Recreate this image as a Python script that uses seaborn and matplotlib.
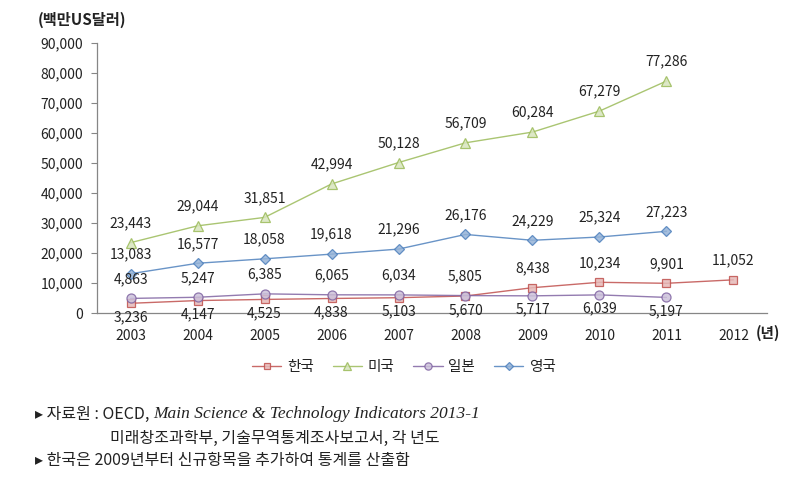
import matplotlib
matplotlib.use("Agg")
import matplotlib.pyplot as plt
import seaborn as sns
import pandas as pd
import numpy as np
from matplotlib.ticker import FuncFormatter, FixedLocator

years = ["2003", "2004", "2005", "2006", "2007", "2008", "2009", "2010", "2011", "2012"]
korea = [3236, 4147, 4525, 4838, 5103, 5670, 8438, 10234, 9901, 11052]
usa = [23443, 29044, 31851, 42994, 50128, 56709, 60284, 67279, 77286, None]
japan = [4863, 5247, 6385, 6065, 6034, 5805, 5717, 6039, 5197, None]
uk = [13083, 16577, 18058, 19618, 21296, 26176, 24229, 25324, 27223, None]
names = ["한국", "미국", "일본", "영국"]

sns.set_theme(style="white")
plt.rcParams['font.family'] = ['Noto Sans CJK KR', 'DejaVu Sans']

fig = plt.figure(figsize=(8.09, 4.82), dpi=100)
ax = fig.add_axes([0.12, 0.3506, 0.828, 0.5604])

series = [
    (names[0], korea, "#C0504D", "#E6B9B8", "s", 6),
    (names[1], usa, "#9BBB59", "#D7E4BD", "^", 6.5),
    (names[2], japan, "#8064A2", "#CCC1DA", "o", 6.5),
    (names[3], uk, "#4F81BD", "#95B3D7", "D", 5),
]

for name, vals, col, fill, mk, ms in series:
    df = pd.DataFrame({"x": np.arange(len(years)), "y": vals}).dropna()
    sns.lineplot(data=df, x="x", y="y", ax=ax, color=col, linewidth=1.0,
                 marker=mk, markersize=ms, markerfacecolor=fill,
                 markeredgecolor=col, markeredgewidth=0.9, label=name, alpha=0.85)

TXT = "#222222"

def lab(vals, idxs, dy):
    for i in idxs:
        v = vals[i]
        ax.annotate(f"{v:,}", (i, v), xytext=(0, dy), textcoords="offset points",
                    ha="center", va="center", fontsize=10, color=TXT)

lab(usa, range(9), 14)
lab(uk, range(9), 14)
lab(japan, range(6), 14)
lab(japan, range(6, 9), -10)
lab(korea, range(6), -10)
lab(korea, range(6, 10), 14)

ax.set_xlim(-0.5, 9.5)
ax.set_ylim(0, 90000)
ax.yaxis.set_major_locator(FixedLocator(np.arange(0, 90001, 10000)))
ax.yaxis.set_major_formatter(FuncFormatter(lambda v, p: f"{int(v):,}"))
ax.set_xticks(np.arange(len(years)))
ax.set_xticklabels(years)
ax.set_xticks(np.arange(-0.5, 10, 1), minor=True)
ax.tick_params(axis="x", which="major", length=0, pad=11.5, labelsize=10, labelcolor=TXT)
ax.tick_params(axis="x", which="minor", length=4, width=0.8, color="#868686", direction="out")
ax.tick_params(axis="y", which="major", length=4, width=0.8, color="#868686", direction="out",
               left=True, labelsize=10, labelcolor=TXT, pad=6)
ax.set_xlabel("")
ax.set_ylabel("")
for s in ["top", "right"]:
    ax.spines[s].set_visible(False)
for s in ["left", "bottom"]:
    ax.spines[s].set_color("#868686")
    ax.spines[s].set_linewidth(0.9)

fig.text(38 / 809, 1 - 20 / 482, "(백만US달러)", fontsize=11, fontweight="bold", color=TXT,
         ha="left", va="center")
fig.text(756 / 809, 1 - 333 / 482, "(년)", fontsize=10.5, fontweight="bold", color=TXT,
         ha="left", va="center")

leg = ax.legend(loc="center", bbox_to_anchor=(0.458, -0.2), ncol=4, frameon=False,
                fontsize=10.5, handlelength=2.0, columnspacing=1.3, handletextpad=0.4,
                markerscale=0.8)
for t in leg.get_texts():
    t.set_color(TXT)

# footnotes
fig.canvas.draw()
r = fig.canvas.get_renderer()
y1 = 1 - 414 / 482
t1 = fig.text(35 / 809, y1, "▸ 자료원 : OECD, ", fontsize=11.5, color=TXT, va="center",
              family=['Noto Sans CJK KR', 'DejaVu Sans'])
bb = t1.get_window_extent(r)
x2 = bb.x1 / fig.bbox.width
fig.text(x2, y1, "Main Science & Technology Indicators 2013-1", fontsize=12.5,
         style="italic", family="Liberation Serif", color=TXT, va="center")
fig.text(110 / 809, 1 - 438 / 482, "미래창조과학부, 기술무역통계조사보고서, 각 년도", fontsize=11.5,
         color=TXT, va="center")
fig.text(35 / 809, 1 - 461 / 482, "▸ 한국은 2009년부터 신규항목을 추가하여 통계를 산출함", fontsize=11.5,
         color=TXT, va="center", family=['Noto Sans CJK KR', 'DejaVu Sans'])

fig.savefig("out.png", dpi=100)
